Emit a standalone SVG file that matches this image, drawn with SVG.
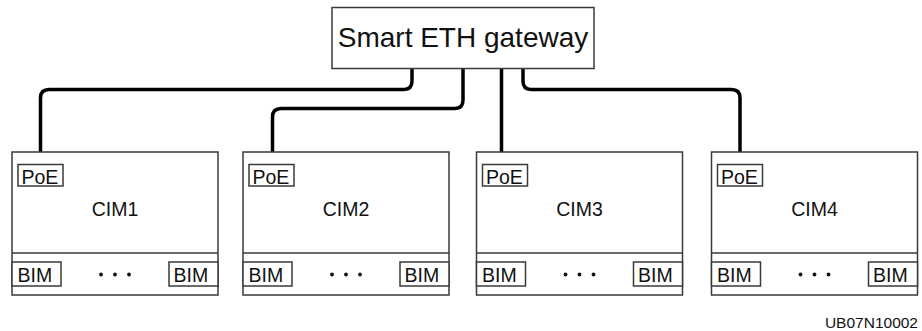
<svg xmlns="http://www.w3.org/2000/svg" width="922" height="331" viewBox="0 0 922 331">
  <style>
    .box { fill: #fff; stroke: #3a3a3a; stroke-width: 1.5; }
    .rule { stroke: #3a3a3a; stroke-width: 1.5; fill: none; }
    .wire { fill: none; stroke: #000; stroke-width: 3.5; stroke-linejoin: round; }
    .lbl { font-family: "Liberation Sans", Arial, sans-serif; fill: #111; }
    .big { font-size: 28px; text-anchor: middle; }
    .sm { font-size: 19.5px; }
    .mid { text-anchor: middle; }
    .dot { fill: #111; }
  </style>
  <defs>
    <!-- one CIM board: body, divider, PoE port, BIM slots and ellipsis -->
    <g id="cim">
      <rect class="box" x="0" y="0" width="206" height="143"/>
      <line class="rule" x1="0" y1="101" x2="206" y2="101"/>
      <rect class="box" x="6" y="12.5" width="45" height="21.5"/>
      <text class="lbl sm" x="9.5" y="31.5">PoE</text>
      <rect class="box" x="0" y="110" width="49" height="24"/>
      <text class="lbl sm" x="5.5" y="129.8">BIM</text>
      <rect class="box" x="157" y="110" width="49" height="24"/>
      <text class="lbl sm" x="161.5" y="129.8">BIM</text>
      <circle class="dot" cx="89" cy="122.5" r="1.9"/>
      <circle class="dot" cx="103" cy="122.5" r="1.9"/>
      <circle class="dot" cx="117" cy="122.5" r="1.9"/>
    </g>
  </defs>

  <g id="connectors">
    <path class="wire" d="M412,68 V81 Q412,89.5 404,89.5 H49 Q40.5,89.5 40.5,98 V164"/>
    <path class="wire" d="M463,68 V100 Q463,108.5 455,108.5 H281 Q272.5,108.5 272.5,117 V164"/>
    <path class="wire" d="M501.5,68 V164"/>
    <path class="wire" d="M523,68 V81 Q523,89.5 531,89.5 H731.5 Q740,89.5 740,98 V164"/>
  </g>

  <g id="gateway">
    <rect class="box" x="332" y="7.5" width="262" height="61"/>
    <text class="lbl big" x="463" y="47">Smart ETH gateway</text>
  </g>

  <g id="cim1">
    <use href="#cim" x="12" y="152"/>
    <text class="lbl sm mid" x="115" y="216">CIM1</text>
  </g>
  <g id="cim2">
    <use href="#cim" x="243" y="152"/>
    <text class="lbl sm mid" x="346" y="216">CIM2</text>
  </g>
  <g id="cim3">
    <use href="#cim" x="476.5" y="152"/>
    <text class="lbl sm mid" x="579.5" y="216">CIM3</text>
  </g>
  <g id="cim4">
    <use href="#cim" x="711.5" y="152"/>
    <text class="lbl sm mid" x="814.5" y="216">CIM4</text>
  </g>

  <text id="code" class="lbl" x="918" y="327.7" font-size="15.5" text-anchor="end">UB07N10002</text>
</svg>
